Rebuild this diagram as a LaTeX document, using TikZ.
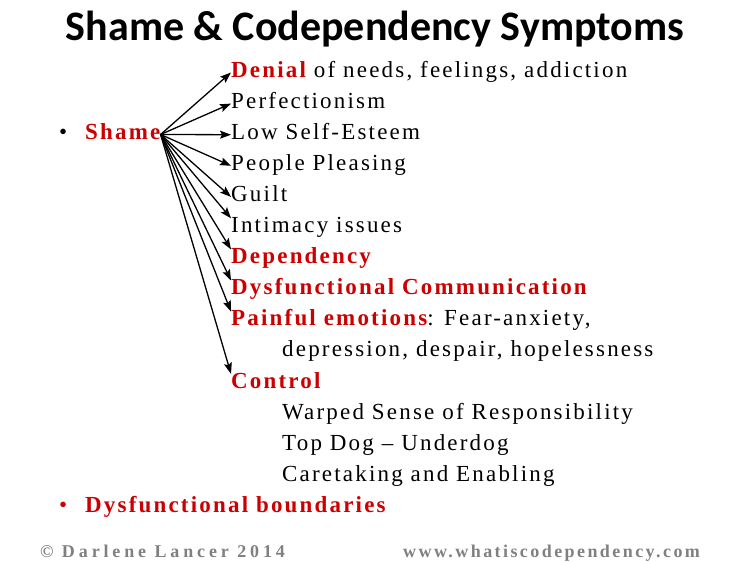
\documentclass[tikz,border=0pt]{standalone}
\usepackage{fontspec}
\setmainfont{Liberation Serif}
\newfontfamily\spaced[LetterSpace=9.5]{Liberation Serif}
\newfontfamily\spacedred[LetterSpace=9.5]{Liberation Serif}
\newfontfamily\footfont[LetterSpace=21.5]{Liberation Serif}
\newfontfamily\webfont[LetterSpace=13.5]{Liberation Serif}
\newfontfamily\titlefont{Carlito}
\usetikzlibrary{arrows.meta}
\definecolor{shamered}{RGB}{204,0,0}
\definecolor{footgray}{RGB}{128,128,128}
\newcommand\hot[1]{{\color{shamered}\spacedred\bfseries #1}}
\begin{document}
\begin{tikzpicture}[x=1pt,y=-1pt,line join=round,line cap=round,>={Stealth[length=11pt,width=8pt,inset=2pt]},
  sym/.style={anchor=base west,inner sep=0pt,text height=14pt,text depth=5pt,font=\spaced\fontsize{23}{27}\selectfont},
  foot/.style={anchor=base west,inner sep=0pt,text=footgray,font=\footfont\bfseries\fontsize{18}{21}\selectfont}]
\useasboundingbox (0,0) rectangle (750,562);
\node[anchor=base,inner sep=0pt,font=\titlefont\bfseries\fontsize{42}{48}\selectfont] (title) at (375,40) {Shame \& Codependency Symptoms};
% shame and its branches
\path
(59,139) node[sym] (dot1) {•}
(85,139) node[sym] (shame) {\hot{Shame}}
(231,77) node[sym] (den) {\hot{Denial} of needs, feelings, addiction}
(231,108.1) node[sym] (per) {Perfectionism}
(231,139.2) node[sym] (low) {Low Self-Esteem}
(231,170.3) node[sym] (ppl) {People Pleasing}
(231,201.4) node[sym] (gui) {Guilt}
(231,232.5) node[sym] (int) {Intimacy issues}
(231,263.6) node[sym] (dep) {\hot{Dependency}}
(231,294.7) node[sym] (com) {\hot{Dysfunctional Communication}}
(231,325.8) node[sym] (pai) {\hot{Painful emotions}: Fear-anxiety,}
(282,356.9) node[sym] (pai2) {depression, despair, hopelessness}
(231,388) node[sym] (con) {\hot{Control}}
(282,419.1) node[sym] (con1) {Warped Sense of Responsibility}
(282,450.2) node[sym] (con2) {Top Dog – Underdog}
(282,481.3) node[sym] (con3) {Caretaking and Enabling}
(59,512.4) node[sym,text=shamered] (dot2) {•}
(85,512.4) node[sym] (bnd) {\hot{Dysfunctional boundaries}};
\foreach \t in {den.west,per.west,low.west,ppl.west,gui.west,int.north west,dep.north west,com.north west,pai.north west,con.north west}
  \draw[->,line width=1.3pt] (shame.east) -- (\t);
% footer
\path
(40,557) node[foot] (cpy) {© Darlene Lancer 2014}
(403,557) node[foot,font=\webfont\bfseries\fontsize{18}{21}\selectfont] (web) {www.whatiscodependency.com};
\end{tikzpicture}
\end{document}
